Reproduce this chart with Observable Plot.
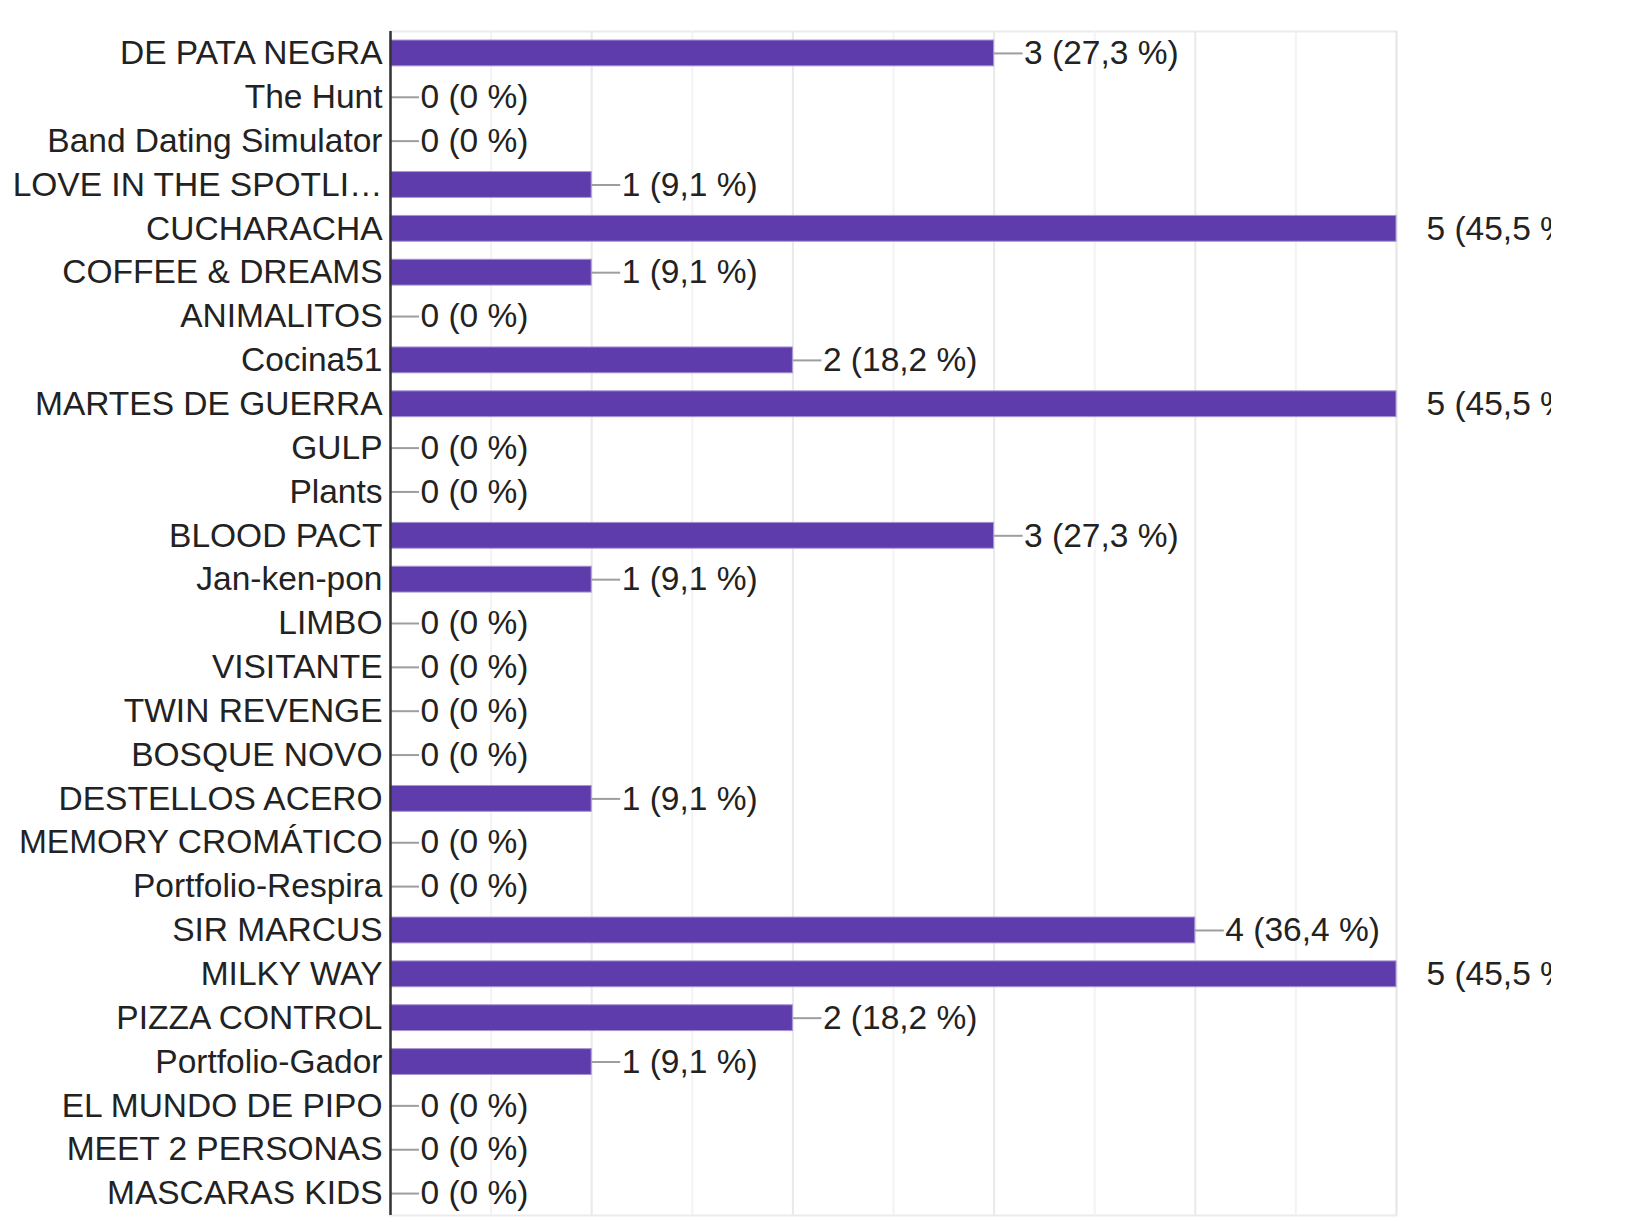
<!DOCTYPE html>
<html>
<head>
<meta charset="utf-8">
<script src="https://cdn.jsdelivr.net/npm/d3@7"></script>
<script src="https://cdn.jsdelivr.net/npm/@observablehq/plot@0.6"></script>
<style>
  html, body { margin: 0; padding: 0; background: #fff; }
  #chart svg { display: block; }
</style>
</head>
<body>
<div id="chart"></div>
<script>
const categories = [
  "DE PATA NEGRA", "The Hunt", "Band Dating Simulator", "LOVE IN THE SPOTLI…",
  "CUCHARACHA", "COFFEE & DREAMS", "ANIMALITOS", "Cocina51", "MARTES DE GUERRA",
  "GULP", "Plants", "BLOOD PACT", "Jan-ken-pon", "LIMBO", "VISITANTE",
  "TWIN REVENGE", "BOSQUE NOVO", "DESTELLOS ACERO", "MEMORY CROMÁTICO",
  "Portfolio-Respira", "SIR MARCUS", "MILKY WAY", "PIZZA CONTROL",
  "Portfolio-Gador", "EL MUNDO DE PIPO", "MEET 2 PERSONAS", "MASCARAS KIDS"
];
const counts = [3, 0, 0, 1, 5, 1, 0, 2, 5, 0, 0, 3, 1, 0, 0, 0, 0, 1, 0, 0, 4, 5, 2, 1, 0, 0, 0];
const totalResponses = 11;
const gridTicks = [0, 0.5, 1, 1.5, 2, 2.5, 3, 3.5, 4, 4.5, 5];

const fmtPct = v => v === 0 ? "0" : (v / totalResponses * 100).toFixed(1).replace(".", ",");
const data = categories.map((name, i) => ({
  name, v: counts[i], label: `${counts[i]} (${fmtPct(counts[i])} %)`
}));

const FONT = "'Liberation Sans', Arial, Helvetica, sans-serif";
const FS = 33.5;

const chart = Plot.plot({
  width: 1551,
  height: 1222,
  marginLeft: 390,
  marginRight: 155,
  marginTop: 31,
  marginBottom: 7,
  style: { fontFamily: FONT, fontSize: FS + "px", color: "#222", overflow: "hidden", background: "#fff" },
  x: { domain: [0, 5], axis: null },
  y: { type: "band", domain: categories, padding: 0, round: false, label: null },
  marks: [
    Plot.frame({ stroke: "#ebebeb", strokeWidth: 2 }),
    Plot.ruleX(gridTicks, {
      stroke: d => Number.isInteger(d) ? "#e9e9e9" : "#f3f3f3",
      strokeWidth: 2
    }),
    Plot.ruleY(data, {
      y: "name", x1: "v", x2: "v", insetRight: -29,
      stroke: "#9e9e9e", strokeWidth: 2, clip: "frame"
    }),
    Plot.barX(data, {
      x: "v", y: "name", fill: "#5e3cac",
      stroke: "#a896d4", strokeWidth: 1,
      insetTop: 9, insetBottom: 9
    }),
    Plot.ruleX([0], { stroke: "#333", strokeWidth: 2.5 }),
    Plot.text(data, {
      x: "v", y: "name", text: "label", dx: 30, textAnchor: "start",
      fontSize: FS, fill: "#222"
    }),
    Plot.axisY({
      tickSize: 0, tickPadding: 8, fontSize: FS, label: null, fill: "#222"
    })
  ]
});
document.getElementById("chart").appendChild(chart);
</script>
</body>
</html>
